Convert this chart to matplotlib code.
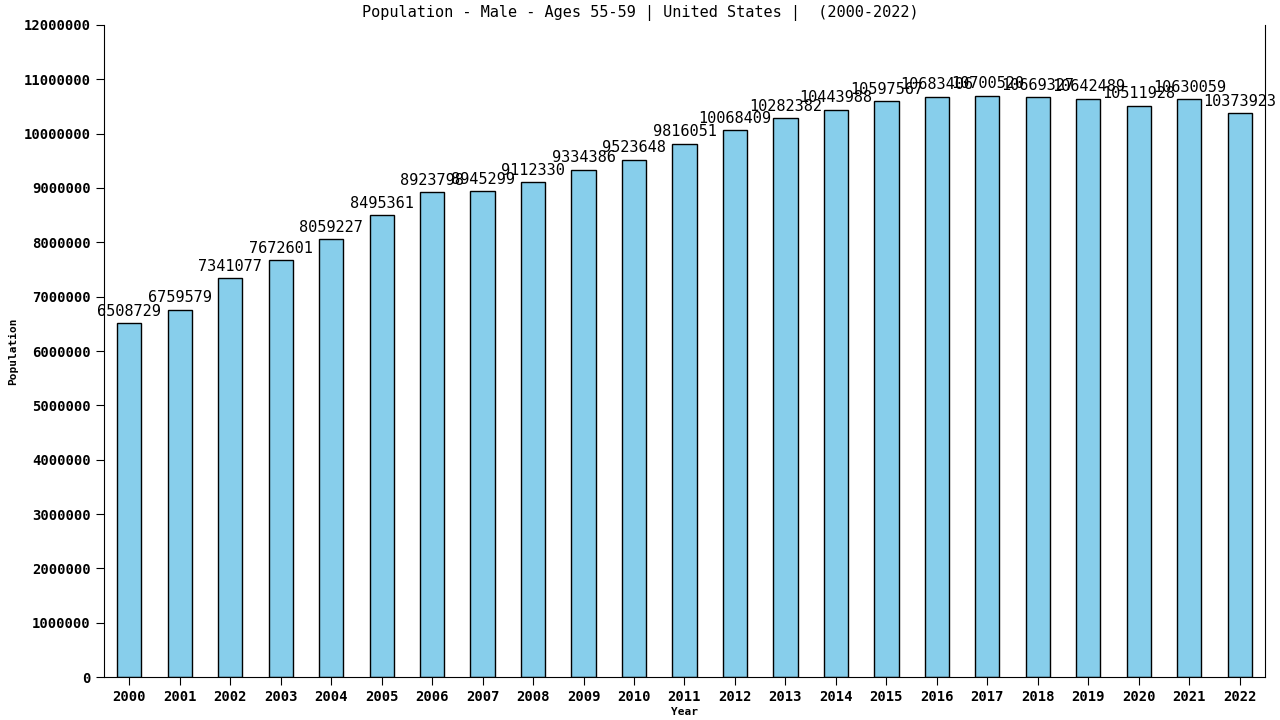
import matplotlib
matplotlib.use('Agg')
import matplotlib.pyplot as plt

# Population, male, ages 55-59, United States
years = [str(y) for y in range(2000, 2023)]
population = [6508729, 6759579, 7341077, 7672601, 8059227, 8495361, 8923798,
              8945299, 9112330, 9334386, 9523648, 9816051, 10068409, 10282382,
              10443988, 10597567, 10683406, 10700520, 10669327, 10642489,
              10511928, 10630059, 10373923]
yticks = list(range(0, 12000001, 1000000))

plt.rcParams['font.family'] = 'DejaVu Sans Mono'

fig = plt.figure(figsize=(12.8, 7.2), dpi=100)
ax = fig.add_axes([0.08125, 0.0597, 0.9070, 0.9056])

x = range(len(years))
ax.bar(x, population, width=0.48, color='#87ceeb', edgecolor='black', linewidth=1)

for i, v in zip(x, population):
    ax.text(i, v + 80000, str(v), ha='center', va='bottom', fontsize=11)

ax.set_xlim(-0.5, len(years) - 0.5)
ax.set_ylim(0, 12000000)
ax.set_xticks(list(x))
ax.set_xticklabels(years, fontsize=10, fontweight='bold')
ax.set_yticks(yticks)
ax.set_yticklabels([str(t) for t in yticks], fontsize=10, fontweight='bold')
ax.spines['top'].set_visible(False)
ax.tick_params(direction='out', length=6)

ax.set_xlabel('Year', fontsize=8, fontweight='bold', labelpad=2)
ax.set_ylabel('Population', fontsize=8, fontweight='bold')
fig.text(0.5, 0.982, 'Population - Male - Ages 55-59 | United States |  (2000-2022)',
         ha='center', va='center', fontsize=11)

fig.savefig('out.png', dpi=100)
